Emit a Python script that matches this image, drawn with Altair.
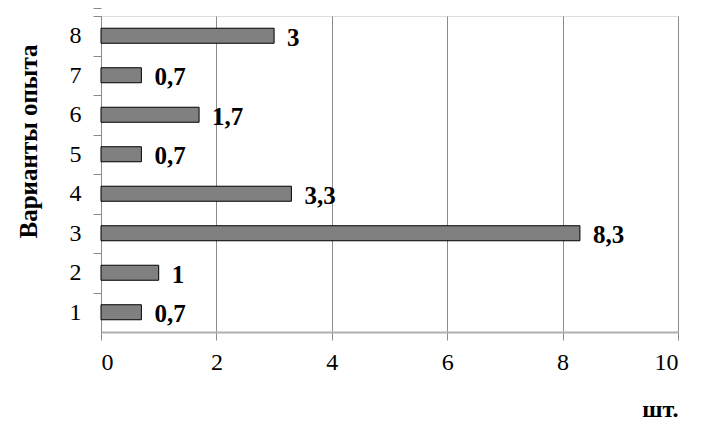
import altair as alt
import pandas as pd

variants = ["1", "2", "3", "4", "5", "6", "7", "8"]
values = [0.7, 1, 8.3, 3.3, 0.7, 1.7, 0.7, 3]
labels = [str(v).replace(".", ",") for v in values]
x_ticks = [0, 2, 4, 6, 8, 10]

df = pd.DataFrame({"variant": variants, "value": values, "label": labels})

FONT = "Liberation Serif"

y_enc = alt.Y(
    "variant:N",
    sort=variants[::-1],
    scale=alt.Scale(paddingInner=0.62, paddingOuter=0.31),
    axis=alt.Axis(
        title="Варианты опыта",
        titleFont=FONT,
        titleFontSize=25,
        titleFontWeight="bold",
        titleColor="black",
        titleAngle=-90,
        titleX=-73,
        titleY=125,
        titleAlign="center",
        titleBaseline="middle",
        labelFont=FONT,
        labelFontSize=24,
        labelColor="black",
        labelPadding=12,
        labelAngle=0,
        tickOffset=-19.75,
        labelOffset=19.75,
        tickExtra=True,
        tickSize=8,
        tickColor="#8a8a8a",
        domainColor="#8a8a8a",
        grid=False,
    ),
)

x_enc = alt.X(
    "value:Q",
    scale=alt.Scale(domain=[0, 10], nice=False),
    axis=alt.Axis(
        values=x_ticks,
        format="d",
        title="шт.",
        titleFont=FONT,
        titleFontSize=24,
        titleFontWeight="bold",
        titleColor="black",
        titleX=577,
        titleY=77,
        titleAlign="right",
        titleBaseline="middle",
        labelFont=FONT,
        labelFontSize=24,
        labelColor="black",
        labelPadding=10,
        tickSize=8,
        tickColor="#8a8a8a",
        domainColor="#b0b0b0",
        domainWidth=2,
        grid=True,
        gridColor="#8a8a8a",
        gridWidth=1,
    ),
)

bars = alt.Chart(df).mark_bar(
    color="#808080", stroke="black", strokeWidth=1
).encode(x=x_enc, y=y_enc)

text = alt.Chart(df).mark_text(
    align="left", baseline="middle", dx=13, dy=2,
    font=FONT, fontSize=25, fontWeight="bold", color="black"
).encode(x="value:Q", y=alt.Y("variant:N", sort=variants[::-1]), text="label:N")

chart = (bars + text).properties(
    width=577,
    height=316,
    autosize=alt.AutoSizeParams(type="none"),
    padding={"left": 93, "top": 8, "right": 30, "bottom": 91},
).configure_view(stroke=None).configure(background="white")

chart.save("out.html", embed_options={"renderer": "svg", "actions": False})
